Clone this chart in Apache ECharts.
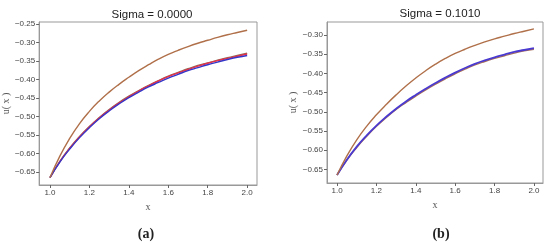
<!DOCTYPE html>
<html>
	<head>
		<meta charset="UTF-8">
		<title>Sigma</title>
		<script src="https://cdn.jsdelivr.net/npm/echarts@6/dist/echarts.min.js"></script>
		<style>
			body { margin: 0; background: #fff; }
			#main { width: 550px; height: 243px; }
		</style>
	</head>
	<body>
		<div id="main"></div>
		<script>
			// x samples shared by all curves
			var xs = [1.00, 1.05, 1.10, 1.15, 1.20, 1.25, 1.30, 1.35, 1.40, 1.45, 1.50,
				1.55, 1.60, 1.65, 1.70, 1.75, 1.80, 1.85, 1.90, 1.95, 2.00];

			// panel (a) Sigma = 0.0000
			var aUpper = [-0.665, -0.607, -0.559, -0.519, -0.486, -0.458, -0.434, -0.413, -0.394, -0.376, -0.360,
				-0.345, -0.332, -0.321, -0.311, -0.302, -0.294, -0.286, -0.279, -0.273, -0.267];
			var aBrown = [-0.665, -0.621, -0.585, -0.554, -0.527, -0.503, -0.481, -0.462, -0.445, -0.430, -0.416,
				-0.403, -0.391, -0.381, -0.371, -0.362, -0.355, -0.348, -0.341, -0.335, -0.329];
			var aRed = [-0.665, -0.622, -0.586, -0.555, -0.528, -0.504, -0.483, -0.464, -0.447, -0.431, -0.417,
				-0.404, -0.392, -0.382, -0.373, -0.364, -0.356, -0.349, -0.343, -0.337, -0.331];
			var aBlue = [-0.665, -0.623, -0.588, -0.557, -0.530, -0.506, -0.485, -0.466, -0.449, -0.434, -0.420,
				-0.408, -0.396, -0.386, -0.376, -0.368, -0.360, -0.353, -0.346, -0.340, -0.335];

			// panel (b) Sigma = 0.1010
			var bUpper = [-0.665, -0.615, -0.573, -0.538, -0.508, -0.481, -0.456, -0.433, -0.412, -0.393, -0.376,
				-0.361, -0.348, -0.337, -0.327, -0.318, -0.310, -0.303, -0.296, -0.290, -0.284];
			var bBlue = [-0.665, -0.625, -0.591, -0.562, -0.536, -0.513, -0.492, -0.473, -0.456, -0.440, -0.425,
				-0.411, -0.398, -0.386, -0.375, -0.366, -0.358, -0.351, -0.344, -0.339, -0.334];
			var bBrown = [-0.665, -0.626, -0.593, -0.564, -0.538, -0.515, -0.494, -0.476, -0.459, -0.443, -0.428,
				-0.414, -0.401, -0.389, -0.378, -0.369, -0.361, -0.354, -0.347, -0.341, -0.337];

			// tick labels
			var xTicks = [1.0, 1.2, 1.4, 1.6, 1.8, 2.0];
			var aYTicks = [-0.65, -0.60, -0.55, -0.50, -0.45, -0.40, -0.35, -0.30, -0.25];
			var bYTicks = [-0.65, -0.60, -0.55, -0.50, -0.45, -0.40, -0.35, -0.30];

			function pairs(ys) {
				return xs.map(function (x, i) { return [x, ys[i]]; });
			}

			function line(name, ys, color, idx, width) {
				return {
					name: name,
					type: 'line',
					xAxisIndex: idx,
					yAxisIndex: idx,
					data: pairs(ys),
					smooth: true,
					showSymbol: false,
					silent: true,
					lineStyle: { color: color, width: width || 1.4 }
				};
			}

			var tickFont = { fontFamily: 'Liberation Sans', fontSize: 8, color: '#444' };

			function xAxis(idx, min, max) {
				return {
					type: 'value', gridIndex: idx, min: min, max: max,
					name: 'x', nameLocation: 'middle', nameGap: 8,
					nameTextStyle: { fontFamily: 'Liberation Serif', fontSize: 10, color: '#555', verticalAlign: 'top' },
					axisLine: { show: true, lineStyle: { color: '#999' } },
					axisTick: { show: true, customValues: xTicks, length: 3, lineStyle: { color: '#666' } },
					axisLabel: Object.assign({
						customValues: xTicks, margin: 4,
						formatter: function (v) { return v.toFixed(1); }
					}, tickFont),
					splitLine: { show: false }
				};
			}

			function yAxis(idx, min, max, ticks) {
				return {
					type: 'value', gridIndex: idx, min: min, max: max,
					name: 'u( x )', nameLocation: 'middle', nameGap: 27, nameRotate: 90,
					nameTextStyle: { fontFamily: 'Liberation Serif', fontSize: 10, color: '#555' },
					axisLine: { show: true, lineStyle: { color: '#999' } },
					axisTick: { show: true, customValues: ticks, length: 3, lineStyle: { color: '#666' } },
					axisLabel: Object.assign({
						customValues: ticks, margin: 4,
						formatter: function (v) { return v.toFixed(2).replace('-', '\u2212'); }
					}, tickFont),
					splitLine: { show: false }
				};
			}

			var titleFont = { fontFamily: 'Liberation Sans', fontSize: 11.5, fontWeight: 'normal', color: '#222' };
			var capFont = { fontFamily: 'Liberation Serif', fontSize: 14, fontWeight: 'bold', color: '#222' };

			var chart = echarts.init(document.getElementById('main'));
			chart.setOption({
				animation: false,
				backgroundColor: '#fff',
				title: [
					{ text: 'Sigma = 0.0000', left: 147, top: 4, textAlign: 'center', textStyle: titleFont },
					{ text: 'Sigma = 0.1010', left: 435, top: 3, textAlign: 'center', textStyle: titleFont },
					{ text: '(a)', left: 141, top: 222, textAlign: 'center', textStyle: capFont },
					{ text: '(b)', left: 436, top: 222, textAlign: 'center', textStyle: capFont }
				],
				grid: [
					{ left: 37, top: 22, width: 220, height: 163, show: true, borderColor: '#999', borderWidth: 1 },
					{ left: 327, top: 22, width: 216, height: 161, show: true, borderColor: '#999', borderWidth: 1 }
				],
				xAxis: [xAxis(0, 0.945, 2.05), xAxis(1, 0.949, 2.046)],
				yAxis: [yAxis(0, -0.685, -0.2446, aYTicks), yAxis(1, -0.6857, -0.266, bYTicks)],
				series: [
					line('a-brown', aBrown, '#8f6a55', 0),
					line('a-red', aRed, '#e8304a', 0),
					line('a-blue', aBlue, '#3636c8', 0),
					line('a-upper', aUpper, '#b0704a', 0),
					line('b-brown', bBrown, '#a8705a', 1),
					line('b-blue', bBlue, '#4a3ad0', 1, 1.8),
					line('b-upper', bUpper, '#b0704a', 1)
				]
			});
		</script>
	</body>
</html>
